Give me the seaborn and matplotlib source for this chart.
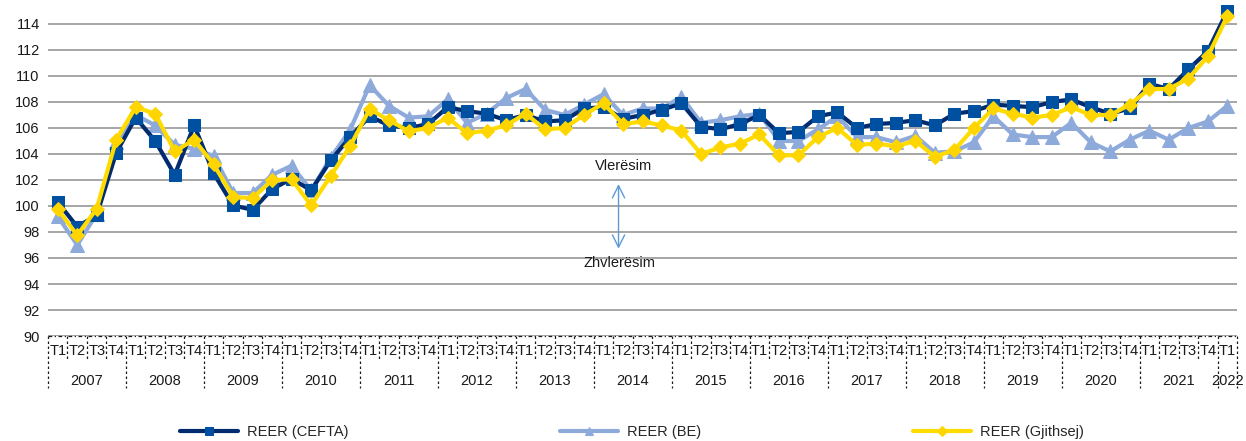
import numpy as np
import pandas as pd
import matplotlib
matplotlib.use("Agg")
import matplotlib.pyplot as plt
import seaborn as sns

years = [str(y) for y in range(2007, 2023)]
quarters = ["T1", "T2", "T3", "T4"]

reer_cefta = [100.3, 98.4, 99.3, 104.1, 106.8, 105.0, 102.4, 106.2, 102.5, 100.05,
              99.7, 101.3, 102.1, 101.2, 103.5, 105.3, 106.9, 106.2, 106.0, 106.3,
              107.6, 107.3, 107.1, 106.6, 107.0, 106.5, 106.6, 107.5, 107.6, 106.7,
              107.0, 107.4, 107.9, 106.1, 105.9, 106.3, 107.0, 105.6, 105.7, 106.9,
              107.2, 106.0, 106.3, 106.4, 106.6, 106.2, 107.1, 107.3, 107.8, 107.7,
              107.6, 108.0, 108.2, 107.6, 107.1, 107.5, 109.4, 109.0, 110.5, 111.9, 115.0]
reer_be = [99.2, 97.0, 99.4, 104.9, 107.0, 106.2, 104.7, 104.4, 103.85, 101.0,
           101.0, 102.4, 103.1, 101.2, 103.7, 105.85, 109.3, 107.7, 106.8, 106.9,
           108.2, 106.4, 107.1, 108.3, 109.0, 107.4, 107.0, 107.8, 108.6, 107.0,
           107.5, 107.5, 108.4, 106.4, 106.6, 106.9, 107.1, 105.0, 105.0, 105.9,
           106.9, 105.3, 105.3, 104.9, 105.4, 104.1, 104.2, 104.9, 106.9, 105.5,
           105.3, 105.3, 106.4, 104.9, 104.2, 105.1, 105.8, 105.1, 106.0, 106.5, 107.7]
reer_total = [99.75, 97.75, 99.8, 105.1, 107.6, 107.1, 104.2, 105.1, 103.2, 100.7,
              100.6, 102.0, 102.05, 100.05, 102.3, 104.6, 107.45, 106.6, 105.75, 106.0,
              106.8, 105.6, 105.8, 106.2, 107.1, 105.9, 106.0, 107.0, 107.9, 106.3,
              106.5, 106.2, 105.8, 104.0, 104.5, 104.8, 105.5, 103.9, 103.9, 105.3,
              106.0, 104.7, 104.8, 104.6, 105.0, 103.8, 104.3, 106.0, 107.5, 107.1,
              106.8, 107.0, 107.6, 107.0, 107.0, 107.8, 109.0, 109.0, 109.8, 111.5, 114.6]

series_names = ["REER (CEFTA)", "REER (BE)", "REER (Gjithsej)"]

n = len(reer_cefta)
q_labels = [quarters[i % 4] for i in range(n)]
idx = np.arange(n)

sns.set_theme(style="white")
plt.rcParams['font.family'] = ['Liberation Sans', 'DejaVu Sans']

fig = plt.figure(figsize=(12.46, 4.41), dpi=100)
ax = fig.add_axes([48 / 1246, 1 - 336 / 441, (1237 - 48) / 1246, 335.4 / 441])

styles = {
    "REER (BE)": dict(color="#8eaadb", marker="^", markersize=9.5, mfc="#8eaadb", mec="#8eaadb"),
    "REER (CEFTA)": dict(color="#002b6e", marker="s", markersize=8, mfc="#0050a2", mec="#0050a2"),
    "REER (Gjithsej)": dict(color="#ffdc00", marker="D", markersize=7, mfc="#ffd500", mec="#ffd500"),
}
data = {"REER (CEFTA)": reer_cefta, "REER (BE)": reer_be, "REER (Gjithsej)": reer_total}

for name in ["REER (BE)", "REER (CEFTA)", "REER (Gjithsej)"]:
    st = styles[name]
    sns.lineplot(x=idx, y=data[name], ax=ax, color=st["color"], linewidth=3,
                 marker=st["marker"], markersize=st["markersize"],
                 markerfacecolor=st["mfc"], markeredgecolor=st["mec"],
                 label=name, zorder=3)

ax.set_xlim(-0.5, n - 0.5)
ax.set_ylim(90, 115.8)
ax.set_yticks(np.arange(90, 115, 2))
ax.yaxis.grid(True, color="#a6a6a6", linewidth=1.4)
ax.xaxis.grid(False)
for s in ax.spines.values():
    s.set_visible(False)
ax.tick_params(axis="y", labelsize=10.5, colors="#1a1a1a", pad=6, length=0)
ax.set_xticks(idx)
ax.set_xticklabels(q_labels, fontsize=10.5, color="#1a1a1a")
ax.tick_params(axis="x", length=0, pad=6)

# category-axis dashed separators
trans = ax.get_xaxis_transform()
ax.plot([-0.5, n - 0.5], [0, 0], transform=trans, color="#1a1a1a", lw=0.9,
        ls=(0, (3, 2, 1, 2)), clip_on=False)
for b in np.arange(-0.5, n, 1.0):
    is_year = (int(b + 0.5) % 4 == 0) or b == n - 0.5
    y_end = -52 / 335.4 if is_year else -24 / 335.4
    ax.plot([b, b], [0, y_end], transform=trans, color="#1a1a1a", lw=0.9,
            ls=(0, (2, 2)), clip_on=False)

for k, yr in enumerate(years):
    start = 4 * k
    end = min(4 * k + 3, n - 1)
    ax.text((start + end) / 2, -45 / 335.4, yr, transform=trans, ha="center",
            va="center", fontsize=10.5, color="#1a1a1a")

# annotation arrow
ax.annotate("", xy=(28.77, 96.5), xytext=(28.77, 101.9),
            arrowprops=dict(arrowstyle="<->", color="#5b9bd5", lw=1,
                            mutation_scale=22))
ax.text(29.03, 103.1, "Vlerësim", ha="center", va="center", fontsize=10.5, color="#1a1a1a")
ax.text(28.8, 95.6, "Zhvlerësim", ha="center", va="center", fontsize=10.5, color="#1a1a1a")

handles, labels = ax.get_legend_handles_labels()
order = [labels.index(nm) for nm in series_names]
leg = ax.legend([handles[i] for i in order], [labels[i] for i in order],
                loc="center", bbox_to_anchor=(0.507, 0.02), bbox_transform=fig.transFigure,
                ncol=3, frameon=False, fontsize=10.5, handlelength=4, handletextpad=0.6,
                columnspacing=14.5)
for h in leg.legend_handles:
    h.set_markersize(5.5)

fig.savefig("out.png", dpi=100)
